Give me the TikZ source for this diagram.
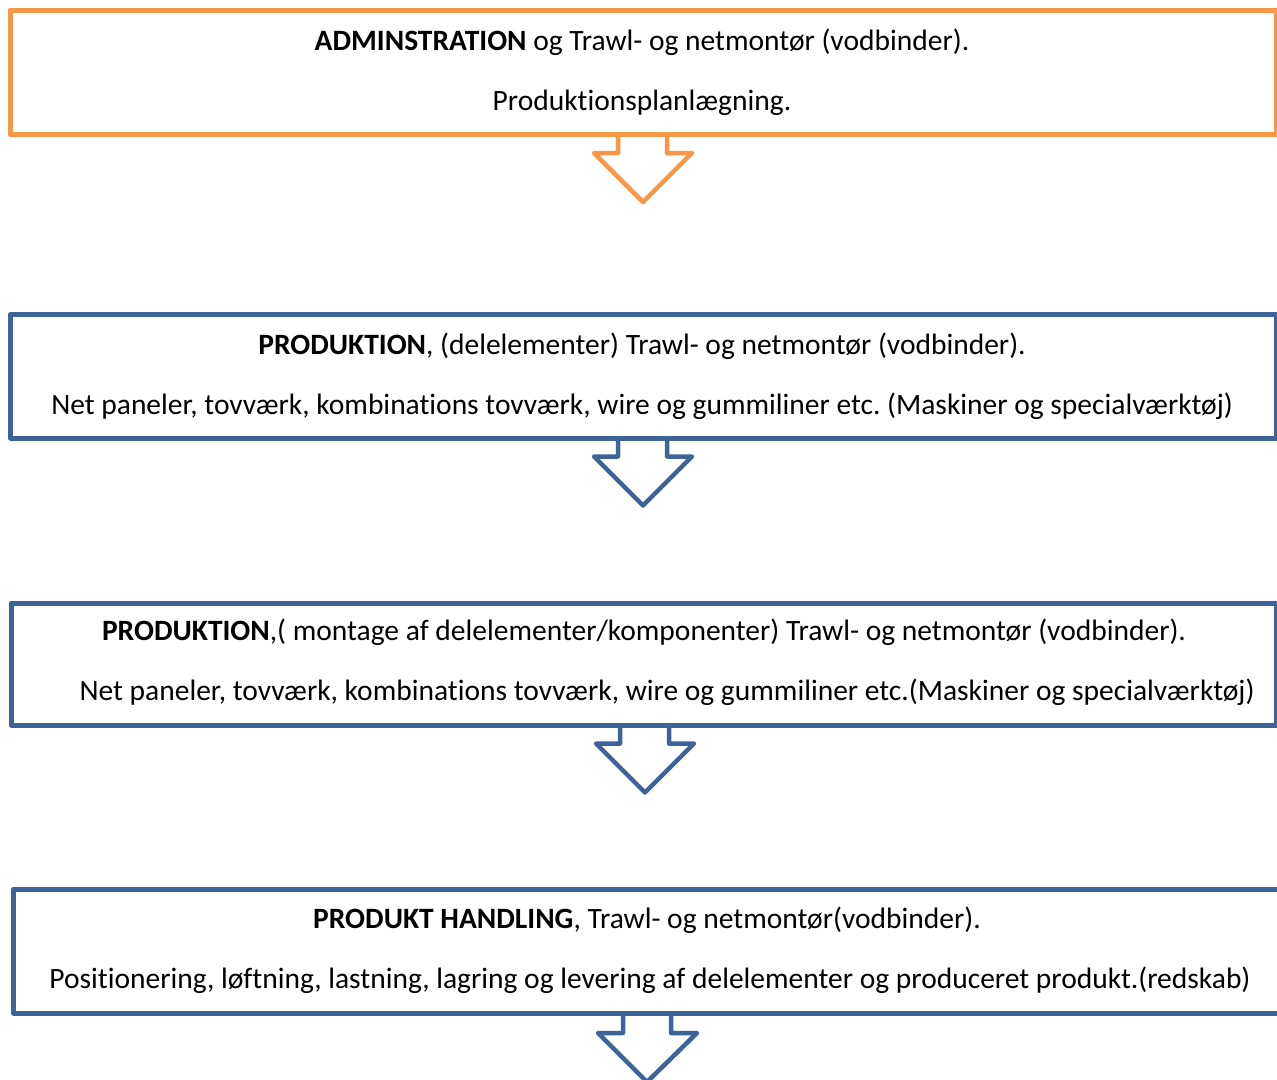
\documentclass[tikz,border=0pt]{standalone}
\usepackage{fontspec}
\setmainfont[Ligatures=NoCommon]{Carlito}
\definecolor{orng}{HTML}{F79646}
\definecolor{blu}{HTML}{3E6497}
\frenchspacing
\begin{document}
\begin{tikzpicture}[x=1pt,y=-1pt,
  boxline/.style={line width=5pt, line join=round},
  arrline/.style={line width=4.5pt, line join=round, line cap=round},
  txt/.style={anchor=base, inner sep=0pt, font=\fontsize{29.5}{34}\selectfont}]
\useasboundingbox (0,0) rectangle (1277,1079);
\fill[white] (0,0) rectangle (1277,1079);
% boxes
\draw[boxline, orng] (10,10) rectangle (1276,134.5);
\coordinate (b1) at (643,134.5);
\draw[boxline, blu] (10.5,314.5) rectangle (1276,438);
\coordinate (b2) at (643,438);
\draw[boxline, blu] (11,603) rectangle (1276,725);
\coordinate (b3) at (645,725);
\draw[boxline, blu] (13.5,889) rectangle (1280,1013);
\coordinate (b4) at (647,1013);
% arrows
\draw[arrline, orng] ([xshift=-25]b1) -- ++(0,18.5) -- ++(-24,0) -- ([yshift=-67.5]b1) -- ([xshift=49,yshift=-18.5]b1) -- ([xshift=24,yshift=-18.5]b1) -- ([xshift=24]b1);
\draw[arrline, blu] ([xshift=-25]b2) -- ++(0,18.5) -- ++(-24,0) -- ([yshift=-67.5]b2) -- ([xshift=49,yshift=-18.5]b2) -- ([xshift=24,yshift=-18.5]b2) -- ([xshift=24]b2);
\draw[arrline, blu] ([xshift=-25]b3) -- ++(0,18.5) -- ++(-24,0) -- ([yshift=-67.5]b3) -- ([xshift=49,yshift=-18.5]b3) -- ([xshift=24,yshift=-18.5]b3) -- ([xshift=24]b3);
\draw[arrline, blu] ([xshift=-24]b4) -- ++(0,20) -- ++(-25,0) -- ([yshift=-69]b4) -- ([xshift=50,yshift=-20]b4) -- ([xshift=24,yshift=-20]b4) -- ([xshift=24]b4);
% texts
\node[txt] (t11) at (642,50) {\textbf{ADMINSTRATION} og Trawl- og netmontør (vodbinder).};
\node[txt] (t12) at (642,110) {Produktionsplanlægning.};
\node[txt] (t21) at (642,354) {\textbf{PRODUKTION}, (delelementer) Trawl- og netmontør (vodbinder).};
\node[txt] (t22) at (642,414) {Net paneler, tovværk, kombinations tovværk, wire og gummiliner etc. (Maskiner og specialværktøj)};
\node[txt] (t31) at (644,640) {\textbf{PRODUKTION},( montage af delelementer/komponenter) Trawl- og netmontør (vodbinder).};
\node[txt] (t32) at (667,700) {Net paneler, tovværk, kombinations tovværk, wire og gummiliner etc.(Maskiner og specialværktøj)};
\node[txt] (t41) at (647,928) {\textbf{PRODUKT HANDLING}, Trawl- og netmontør(vodbinder).};
\node[txt] (t42) at (650,988) {Positionering, løftning, lastning, lagring og levering af delelementer og produceret produkt.(redskab)};
\end{tikzpicture}
\end{document}
